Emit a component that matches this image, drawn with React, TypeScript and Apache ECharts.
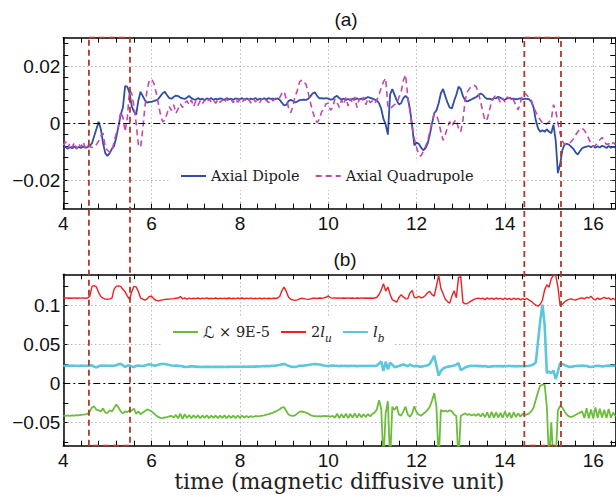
import React, { useEffect, useRef } from 'react';
import * as echarts from 'echarts';

// sampling: t = 4.00, 4.05, ..., 16.50
const T0 = 4;
const DT = 0.05;

const dipole = [
  -0.0088,-0.0082,-0.0090,-0.0084,-0.0088,-0.0081,-0.0089,-0.0083,-0.0087,-0.0082,-0.0086,-0.0084,-0.0080,-0.0070,-0.0045,-0.0020,0.0005,-0.0020,-0.0070,-0.0105,
  -0.0115,-0.0105,-0.0090,-0.0080,-0.0050,-0.0010,0.0030,0.0055,0.0130,0.0128,0.0105,0.0060,0.0040,0.0030,0.0080,0.0110,0.0095,0.0080,0.0072,0.0075,
  0.0075,0.0078,0.0080,0.0085,0.0095,0.0105,0.0110,0.0098,0.0088,0.0086,0.0092,0.0097,0.0095,0.0090,0.0087,0.0085,0.0090,0.0096,0.0088,0.0084,
  0.0082,0.0088,0.0083,0.0086,0.0081,0.0087,0.0084,0.0088,0.0082,0.0086,0.0083,0.0087,0.0085,0.0082,0.0088,0.0084,0.0086,0.0082,0.0087,0.0085,
  0.0084,0.0088,0.0082,0.0087,0.0083,0.0086,0.0084,0.0088,0.0082,0.0086,0.0084,0.0087,0.0083,0.0088,0.0085,0.0086,0.0084,0.0087,0.0082,0.0072,
  0.0062,0.0065,0.0078,0.0082,0.0078,0.0073,0.0076,0.0081,0.0082,0.0083,0.0082,0.0086,0.0095,0.0105,0.0108,0.0095,0.0087,0.0088,0.0086,0.0088,
  0.0086,0.0083,0.0084,0.0092,0.0096,0.0088,0.0083,0.0086,0.0082,0.0085,0.0081,0.0086,0.0083,0.0087,0.0084,0.0086,0.0083,0.0088,0.0092,0.0089,
  0.0086,0.0083,0.0080,0.0070,0.0050,0.0015,-0.0005,-0.0040,0.0100,0.0120,0.0100,0.0080,0.0066,0.0070,0.0088,0.0096,0.0088,0.0050,-0.0010,-0.0078,
  -0.0068,-0.0072,-0.0085,-0.0095,-0.0088,-0.0072,-0.0040,0.0000,0.0035,0.0045,0.0070,0.0105,0.0120,0.0095,0.0072,0.0055,0.0052,0.0078,0.0100,0.0128,
  0.0120,0.0095,0.0080,0.0076,0.0080,0.0084,0.0088,0.0092,0.0098,0.0104,0.0100,0.0090,0.0085,0.0086,0.0083,0.0087,0.0088,0.0093,0.0089,0.0084,
  0.0082,0.0087,0.0089,0.0085,0.0086,0.0084,0.0085,0.0087,0.0084,0.0086,0.0085,0.0084,0.0075,0.0055,0.0010,-0.0018,-0.0030,-0.0025,-0.0030,-0.0022,
  -0.0030,-0.0035,-0.0005,-0.0060,-0.0175,-0.0145,-0.0095,-0.0075,-0.0072,-0.0075,-0.0082,-0.0090,-0.0102,-0.0110,-0.0098,-0.0088,-0.0084,-0.0082,-0.0080,-0.0084,
  -0.0079,-0.0086,-0.0081,-0.0085,-0.0079,-0.0082,-0.0087,-0.0080,-0.0086,-0.0083,-0.0085,
];

const quadrupole = [
  -0.0078,-0.0065,-0.0088,-0.0070,-0.0085,-0.0068,-0.0090,-0.0072,-0.0084,-0.0066,-0.0088,-0.0075,-0.0082,-0.0085,-0.0084,-0.0075,-0.0062,-0.0045,-0.0035,-0.0085,
  -0.0095,-0.0102,-0.0098,-0.0065,-0.0035,-0.0010,0.0040,0.0020,-0.0030,0.0020,0.0115,0.0105,0.0060,0.0000,-0.0075,-0.0085,-0.0020,0.0060,0.0120,0.0150,
  0.0155,0.0140,0.0110,0.0070,0.0030,0.0005,0.0010,0.0035,0.0058,0.0045,0.0065,0.0035,0.0050,0.0068,0.0055,0.0072,0.0078,0.0065,0.0082,0.0058,
  0.0078,0.0062,0.0079,0.0068,0.0082,0.0072,0.0085,0.0074,0.0081,0.0070,0.0084,0.0073,0.0082,0.0071,0.0086,0.0075,0.0083,0.0072,0.0085,0.0074,
  0.0082,0.0072,0.0086,0.0074,0.0083,0.0071,0.0087,0.0075,0.0082,0.0073,0.0086,0.0076,0.0081,0.0072,0.0085,0.0078,0.0088,0.0084,0.0090,0.0105,
  0.0112,0.0085,0.0055,0.0037,0.0060,0.0095,0.0115,0.0145,0.0152,0.0145,0.0135,0.0105,0.0070,0.0040,0.0015,0.0002,0.0015,0.0040,0.0050,0.0068,
  0.0070,0.0045,0.0055,0.0085,0.0072,0.0055,0.0082,0.0066,0.0090,0.0060,0.0087,0.0070,0.0092,0.0055,0.0086,0.0074,0.0092,0.0065,0.0086,0.0072,
  0.0078,0.0068,0.0082,0.0100,0.0125,0.0145,0.0158,0.0060,0.0050,0.0058,0.0065,0.0070,0.0090,0.0110,0.0150,0.0170,0.0095,0.0040,-0.0012,-0.0055,
  -0.0085,-0.0112,-0.0115,-0.0100,-0.0082,-0.0062,-0.0030,0.0005,0.0032,0.0030,0.0005,-0.0030,-0.0060,-0.0040,-0.0015,0.0006,-0.0010,0.0005,0.0012,-0.0020,
  -0.0030,0.0010,0.0080,0.0110,0.0122,0.0130,0.0133,0.0128,0.0105,0.0075,0.0040,0.0008,0.0015,0.0045,0.0075,0.0090,0.0100,0.0088,0.0072,0.0088,
  0.0075,0.0092,0.0086,0.0095,0.0080,0.0062,0.0047,0.0072,0.0102,0.0105,0.0098,0.0090,0.0080,0.0055,0.0040,0.0022,0.0012,0.0002,-0.0006,-0.0002,
  0.0005,0.0012,0.0065,0.0045,0.0000,-0.0035,-0.0062,-0.0074,-0.0076,-0.0072,-0.0065,-0.0055,-0.0042,-0.0030,-0.0020,-0.0018,-0.0025,-0.0038,-0.0055,-0.0072,
  -0.0082,-0.0078,-0.0068,-0.0058,-0.0050,-0.0062,-0.0075,-0.0072,-0.0078,-0.0068,-0.0074,
];

const lagrangian = [
  -0.0415,-0.0418,-0.0412,-0.0416,-0.0410,-0.0413,-0.0408,-0.0410,-0.0405,-0.0402,-0.0398,-0.0392,-0.0360,-0.0310,-0.0295,-0.0340,-0.0345,-0.0360,-0.0320,-0.0375,
  -0.0380,-0.0345,-0.0360,-0.0315,-0.0270,-0.0310,-0.0360,-0.0385,-0.0360,-0.0370,-0.0345,-0.0350,-0.0325,-0.0390,-0.0360,-0.0395,-0.0375,-0.0355,-0.0335,-0.0345,
  -0.0360,-0.0385,-0.0412,-0.0430,-0.0442,-0.0445,-0.0438,-0.0432,-0.0425,-0.0418,-0.0435,-0.0405,-0.0448,-0.0390,-0.0455,-0.0395,-0.0445,-0.0405,-0.0448,-0.0410,
  -0.0445,-0.0408,-0.0448,-0.0412,-0.0442,-0.0410,-0.0446,-0.0415,-0.0443,-0.0412,-0.0446,-0.0414,-0.0444,-0.0410,-0.0447,-0.0413,-0.0442,-0.0415,-0.0445,-0.0412,
  -0.0442,-0.0415,-0.0438,-0.0418,-0.0435,-0.0420,-0.0432,-0.0418,-0.0425,-0.0420,-0.0415,-0.0410,-0.0402,-0.0395,-0.0385,-0.0375,-0.0362,-0.0348,-0.0332,-0.0310,
  -0.0305,-0.0355,-0.0400,-0.0415,-0.0418,-0.0410,-0.0385,-0.0365,-0.0360,-0.0368,-0.0375,-0.0390,-0.0408,-0.0418,-0.0420,-0.0424,-0.0422,-0.0425,-0.0418,-0.0422,
  -0.0420,-0.0428,-0.0418,-0.0442,-0.0390,-0.0445,-0.0395,-0.0442,-0.0388,-0.0445,-0.0392,-0.0438,-0.0385,-0.0440,-0.0390,-0.0436,-0.0398,-0.0432,-0.0395,-0.0425,
  -0.0390,-0.0375,-0.0335,-0.0215,-0.0330,-0.1000,-0.0380,-0.0230,-0.1000,-0.0300,-0.0340,-0.0295,-0.0400,-0.0415,-0.0360,-0.0300,-0.0400,-0.0430,-0.0380,-0.0295,
  -0.0370,-0.0400,-0.0415,-0.0390,-0.0370,-0.0340,-0.0300,-0.0220,-0.0125,-0.0300,-0.1000,-0.0340,-0.0360,-0.0350,-0.0365,-0.0345,-0.0360,-0.0400,-0.0420,-0.1000,
  -0.0420,-0.0400,-0.0385,-0.0405,-0.0395,-0.0412,-0.0398,-0.0415,-0.0390,-0.0425,-0.0385,-0.0435,-0.0370,-0.0445,-0.0365,-0.0440,-0.0372,-0.0438,-0.0378,-0.0442,
  -0.0360,-0.0435,-0.0375,-0.0445,-0.0370,-0.0432,-0.0385,-0.0428,-0.0392,-0.0405,-0.0398,-0.0385,-0.0360,-0.0310,-0.0210,-0.0110,-0.0030,-0.0017,-0.0017,-0.0300,
  -0.1000,-0.0500,-0.1000,-0.1000,-0.0350,-0.0290,-0.0310,-0.0360,-0.0400,-0.0425,-0.0432,-0.0420,-0.0405,-0.0390,-0.0375,-0.0360,-0.0445,-0.0320,-0.0450,-0.0335,
  -0.0448,-0.0310,-0.0442,-0.0325,-0.0438,-0.0340,-0.0445,-0.0330,-0.0440,-0.0375,-0.0420,
];

const twoLu = [
  0.1095,0.1098,0.1092,0.1096,0.1093,0.1097,0.1092,0.1095,0.1094,0.1097,0.1093,0.1095,0.1120,0.1245,0.1255,0.1238,0.1165,0.1115,0.1095,0.1082,
  0.1080,0.1085,0.1092,0.1210,0.1245,0.1252,0.1245,0.1205,0.1175,0.1120,0.1080,0.1175,0.1245,0.1238,0.1180,0.1095,0.1082,0.1068,0.1085,0.1115,
  0.1118,0.1085,0.1065,0.1058,0.1065,0.1072,0.1078,0.1080,0.1082,0.1085,0.1088,0.1092,0.1095,0.1115,0.1085,0.1098,0.1082,0.1095,0.1085,0.1092,
  0.1088,0.1096,0.1085,0.1094,0.1087,0.1097,0.1086,0.1093,0.1088,0.1096,0.1085,0.1095,0.1087,0.1094,0.1086,0.1096,0.1088,0.1093,0.1087,0.1095,
  0.1089,0.1096,0.1086,0.1094,0.1088,0.1097,0.1085,0.1093,0.1088,0.1095,0.1086,0.1094,0.1088,0.1093,0.1087,0.1092,0.1090,0.1095,0.1115,0.1190,
  0.1235,0.1180,0.1105,0.1080,0.1072,0.1066,0.1072,0.1085,0.1092,0.1088,0.1082,0.1078,0.1085,0.1092,0.1094,0.1090,0.1095,0.1093,0.1098,0.1105,
  0.1122,0.1098,0.1094,0.1097,0.1092,0.1097,0.1093,0.1096,0.1092,0.1097,0.1093,0.1095,0.1091,0.1096,0.1093,0.1097,0.1092,0.1095,0.1093,0.1096,
  0.1093,0.1095,0.1105,0.1140,0.1200,0.1280,0.1185,0.1237,0.1145,0.1075,0.1060,0.1042,0.1100,0.1138,0.1110,0.1088,0.1085,0.1160,0.1194,0.1100,
  0.1100,0.1118,0.1098,0.1105,0.1128,0.1165,0.1180,0.1140,0.1120,0.1250,0.1390,0.1220,0.1150,0.1080,0.1050,0.1030,0.1120,0.1190,0.1100,0.1360,
  0.1370,0.1040,0.1020,0.1025,0.1045,0.1062,0.1078,0.1088,0.1095,0.1085,0.1092,0.1075,0.1098,0.1082,0.1095,0.1078,0.1096,0.1080,0.1093,0.1075,
  0.1095,0.1078,0.1092,0.1074,0.1093,0.1077,0.1090,0.1072,0.1088,0.1075,0.1090,0.1068,0.1053,0.1025,0.1005,0.0990,0.1015,0.1070,0.1200,0.1265,
  0.1235,0.1345,0.1385,0.1390,0.1240,0.1000,0.1015,0.1045,0.1065,0.1078,0.1085,0.1075,0.1068,0.1082,0.1092,0.1098,0.1085,0.1105,0.1095,0.1118,
  0.1085,0.1072,0.1095,0.1078,0.1092,0.1105,0.1088,0.1098,0.1072,0.1092,0.1068,
];

const lb = [
  0.0227,0.0225,0.0228,0.0226,0.0229,0.0226,0.0227,0.0224,0.0228,0.0226,0.0227,0.0225,0.0228,0.0232,0.0215,0.0205,0.0220,0.0228,0.0226,0.0228,
  0.0226,0.0227,0.0225,0.0228,0.0232,0.0245,0.0250,0.0232,0.0210,0.0228,0.0232,0.0218,0.0208,0.0225,0.0230,0.0225,0.0222,0.0228,0.0238,0.0245,
  0.0240,0.0228,0.0230,0.0238,0.0246,0.0250,0.0248,0.0242,0.0236,0.0230,0.0226,0.0228,0.0225,0.0222,0.0218,0.0212,0.0210,0.0215,0.0220,0.0218,
  0.0215,0.0212,0.0214,0.0211,0.0213,0.0212,0.0214,0.0211,0.0213,0.0212,0.0214,0.0212,0.0213,0.0211,0.0214,0.0212,0.0213,0.0214,0.0212,0.0213,
  0.0214,0.0212,0.0215,0.0213,0.0216,0.0214,0.0217,0.0215,0.0218,0.0217,0.0220,0.0219,0.0222,0.0221,0.0224,0.0226,0.0228,0.0232,0.0236,0.0244,
  0.0248,0.0238,0.0225,0.0215,0.0212,0.0210,0.0218,0.0228,0.0226,0.0228,0.0232,0.0236,0.0242,0.0246,0.0248,0.0245,0.0242,0.0236,0.0230,0.0225,
  0.0222,0.0225,0.0228,0.0226,0.0224,0.0221,0.0225,0.0222,0.0226,0.0221,0.0224,0.0222,0.0225,0.0221,0.0224,0.0222,0.0226,0.0223,0.0225,0.0222,
  0.0224,0.0222,0.0228,0.0255,0.0280,0.0160,0.0278,0.0180,0.0265,0.0240,0.0208,0.0215,0.0222,0.0232,0.0242,0.0232,0.0220,0.0242,0.0228,0.0218,
  0.0225,0.0218,0.0212,0.0220,0.0226,0.0232,0.0250,0.0300,0.0355,0.0230,0.0098,0.0160,0.0190,0.0205,0.0212,0.0218,0.0222,0.0228,0.0240,0.0260,
  0.0170,0.0185,0.0205,0.0215,0.0222,0.0225,0.0222,0.0226,0.0221,0.0224,0.0218,0.0222,0.0215,0.0214,0.0218,0.0220,0.0223,0.0219,0.0224,0.0218,
  0.0224,0.0220,0.0225,0.0219,0.0224,0.0218,0.0222,0.0219,0.0223,0.0220,0.0222,0.0225,0.0232,0.0245,0.0270,0.0540,0.0800,0.1010,0.0750,0.0135,
  0.0150,0.0133,0.0165,0.0056,0.0150,0.0260,0.0250,0.0235,0.0222,0.0212,0.0212,0.0218,0.0222,0.0226,0.0224,0.0228,0.0225,0.0222,0.0215,0.0210,
  0.0215,0.0222,0.0226,0.0222,0.0218,0.0220,0.0225,0.0228,0.0224,0.0226,0.0228,
];

const times = dipole.map((_, i) => Number((T0 + i * DT).toFixed(2)));

const xMin = 4;
const xMax = 16.5;
const xInterval = 2;
const xTickLabels = [4, 6, 8, 10, 12, 14, 16];

const yRangeA = [-0.03, 0.03];
const yTicksA = [-0.028, -0.024, -0.02, -0.016, -0.012, -0.008, -0.004, 0, 0.004, 0.008, 0.012, 0.016, 0.02, 0.024, 0.028];
const yLabelsA = [-0.02, 0, 0.02];
const yGridA = [-0.02, 0.02];

const yRangeB = [-0.08, 0.14];
const yTicksB = [-0.075, -0.05, -0.025, 0, 0.025, 0.05, 0.075, 0.1, 0.125];
const yLabelsB = [-0.05, 0, 0.05, 0.1];
const yGridB = [-0.05, 0.05, 0.1];

// highlighted time windows (dashed boxes)
const windows = [[4.58, 5.51], [14.44, 15.27]];

const pairs = (vals: number[]) => vals.map((v, i) => [times[i], v]);

const fmt = (v: number) => {
  if (Math.abs(v) < 1e-12) return '0';
  const s = String(Number(Math.abs(v).toFixed(4)));
  return (v < 0 ? '\u2212' : '') + s;
};

const SANS = 'Liberation Sans, Arial, Helvetica, sans-serif';
const SERIF = 'DejaVu Serif, DejaVu Sans, serif';
const axisLine = { show: true, onZero: false, lineStyle: { color: '#000', width: 1.5 } };
const tickStyle = { color: '#000', width: 1 };
const dotted = { color: '#9a9a9a', type: [1, 3], width: 1 };

function xAxisDef(gridIndex: number, position: string, main: boolean, withName: boolean) {
  return {
    type: 'value', gridIndex, position, min: xMin, max: xMax, interval: xInterval,
    axisLine,
    axisTick: { show: true, inside: true, length: 5, lineStyle: tickStyle },
    minorTick: { show: true, splitNumber: 5, length: 5, lineStyle: tickStyle },
    axisLabel: main
      ? { show: true, customValues: xTickLabels, margin: 5, fontSize: 19, fontFamily: SANS, color: '#111' }
      : { show: false },
    splitLine: main ? { show: true, lineStyle: dotted } : { show: false },
    minorSplitLine: { show: false },
    name: withName ? 'time (magnetic diffusive unit)' : '',
    nameLocation: 'middle',
    nameGap: 22,
    nameTextStyle: { fontFamily: SERIF, fontSize: 22, color: '#222' },
  };
}

function yAxisDef(gridIndex: number, position: string, range: number[], ticks: number[], labels: number[], main: boolean) {
  return {
    type: 'value', gridIndex, position, min: range[0], max: range[1],
    axisLine,
    axisTick: { show: true, inside: true, length: 5, customValues: ticks, lineStyle: tickStyle },
    minorTick: { show: false },
    axisLabel: main
      ? { show: true, customValues: labels, formatter: fmt, margin: 3, fontSize: 19, fontFamily: SANS, color: '#111' }
      : { show: false },
    splitLine: { show: false },
  };
}

const gridMarks = (vals: number[]) => ({
  silent: true, z: 1, symbol: ['none', 'none'], label: { show: false },
  data: vals.map((v) => ({ yAxis: v, lineStyle: dotted })),
});

const zeroMark = {
  silent: true, symbol: ['none', 'none'], label: { show: false },
  data: [{ yAxis: 0, lineStyle: { color: '#000', type: [7, 3, 2, 3], width: 1 } }],
};

const legendFmt = (name: string) => {
  if (name === 'L') return '{s|\u2112} \u00d7 9E-5';
  if (name === '2lu') return '2{i|l}{sub|u}';
  if (name === 'lb') return '{i|l}{sub|b}';
  return name;
};

const titleTexts = [
  { id: 'ta', type: 'text', x: 346, y: 19, style: { text: '(a)', fontSize: 19, fontFamily: SANS, fill: '#111', align: 'center', verticalAlign: 'middle' } },
  { id: 'tb', type: 'text', x: 345, y: 259, style: { text: '(b)', fontSize: 19, fontFamily: SANS, fill: '#111', align: 'center', verticalAlign: 'middle' } },
];

export default function App() {
  const ref = useRef<HTMLDivElement>(null);
  useEffect(() => {
    if (!ref.current) return;
    const chart = echarts.init(ref.current, null, { renderer: 'svg' });
    const option: any = {
      animation: false,
      backgroundColor: '#fff',
      grid: [
        { left: 63.3, top: 37.7, width: 552, height: 171 },
        { left: 63.3, top: 274.3, width: 552, height: 171.4 },
      ],
      xAxis: [
        xAxisDef(0, 'bottom', true, false),
        xAxisDef(0, 'top', false, false),
        xAxisDef(1, 'bottom', true, true),
        xAxisDef(1, 'top', false, false),
      ],
      yAxis: [
        yAxisDef(0, 'left', yRangeA, yTicksA, yLabelsA, true),
        yAxisDef(0, 'right', yRangeA, yTicksA, yLabelsA, false),
        yAxisDef(1, 'left', yRangeB, yTicksB, yLabelsB, true),
        yAxisDef(1, 'right', yRangeB, yTicksB, yLabelsB, false),
      ],
      legend: [
        {
          data: ['Axial Dipole', 'Axial Quadrupole'],
          left: 170, top: 162, orient: 'horizontal',
          itemWidth: 25, itemHeight: 14, itemGap: 15, padding: [4, 10],
          backgroundColor: '#fff', selectedMode: false,
          itemStyle: { opacity: 0 },
          textStyle: { fontFamily: SERIF, fontSize: 14.5, color: '#222', lineHeight: 20 },
        },
        {
          data: ['L', '2lu', 'lb'],
          left: 162, top: 317, orient: 'horizontal',
          itemWidth: 25, itemHeight: 14, itemGap: 10, padding: [4, 10],
          backgroundColor: '#fff', selectedMode: false,
          itemStyle: { opacity: 0 },
          formatter: legendFmt,
          textStyle: {
            fontFamily: SERIF, fontSize: 14.5, color: '#222', lineHeight: 22,
            rich: {
              s: { fontFamily: SERIF, fontSize: 16, color: '#222', lineHeight: 22 },
              i: { fontFamily: SERIF, fontStyle: 'italic', fontSize: 15, color: '#222', lineHeight: 22 },
              sub: { fontFamily: SERIF, fontStyle: 'italic', fontSize: 10.5, color: '#222', verticalAlign: 'bottom' },
            },
          },
        },
      ],
      series: [
        {
          name: 'Axial Dipole', type: 'line', xAxisIndex: 0, yAxisIndex: 0,
          data: pairs(dipole), symbol: 'none', showSymbol: false, z: 3,
          lineStyle: { color: '#2f4fa6', width: 1.8 }, itemStyle: { color: '#2f4fa6' },
          markLine: gridMarks(yGridA),
        },
        {
          name: 'Axial Quadrupole', type: 'line', xAxisIndex: 0, yAxisIndex: 0,
          data: pairs(quadrupole), symbol: 'none', showSymbol: false, z: 4,
          lineStyle: { color: '#c24aae', width: 1.6, type: [6, 4] }, itemStyle: { color: '#c24aae' },
          markLine: zeroMark,
        },
        {
          name: 'L', type: 'line', xAxisIndex: 2, yAxisIndex: 2,
          data: pairs(lagrangian), symbol: 'none', showSymbol: false, z: 3,
          lineStyle: { color: '#6cbd3c', width: 1.8 }, itemStyle: { color: '#6cbd3c' },
          markLine: gridMarks(yGridB),
        },
        {
          name: '2lu', type: 'line', xAxisIndex: 2, yAxisIndex: 2,
          data: pairs(twoLu), symbol: 'none', showSymbol: false, z: 3,
          lineStyle: { color: '#ee2020', width: 1.4 }, itemStyle: { color: '#ee2020' },
        },
        {
          name: 'lb', type: 'line', xAxisIndex: 2, yAxisIndex: 2,
          data: pairs(lb), symbol: 'none', showSymbol: false, z: 4,
          lineStyle: { color: '#5cc6dc', width: 2.6 }, itemStyle: { color: '#5cc6dc' },
          markLine: zeroMark,
        },
      ],
      graphic: titleTexts,
    };
    chart.setOption(option);

    const rects = windows.map(([t0, t1], k) => {
      const p0 = chart.convertToPixel({ xAxisIndex: 0, yAxisIndex: 0 } as any, [t0, yRangeA[1]]) as number[];
      const p1 = chart.convertToPixel({ xAxisIndex: 2, yAxisIndex: 2 } as any, [t1, yRangeB[0]]) as number[];
      return {
        id: 'win' + k, type: 'rect', z: 100, silent: true,
        shape: { x: p0[0], y: p0[1], width: p1[0] - p0[0], height: p1[1] - p0[1] },
        style: { fill: 'none', stroke: '#b0392b', lineWidth: 1.8, lineDash: [6, 4] },
      };
    });
    chart.setOption({ graphic: [...titleTexts, ...rects] });

    return () => chart.dispose();
  }, []);
  return <div ref={ref} style={{ position: 'fixed', left: 0, top: 0, width: 616, height: 497 }} />;
}
